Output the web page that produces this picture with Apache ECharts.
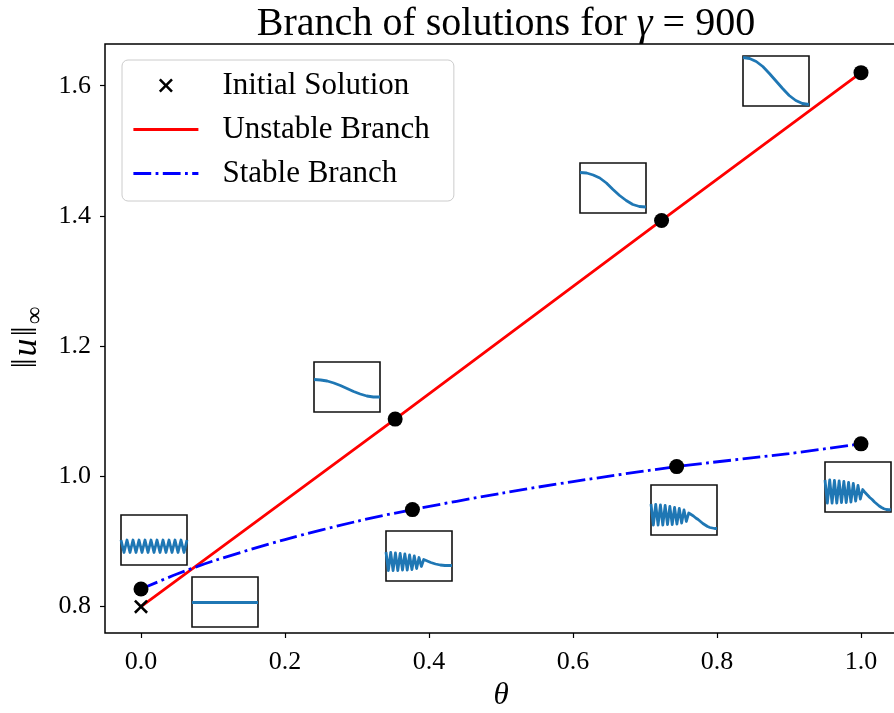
<!DOCTYPE html>
<html>
<head>
<meta charset="utf-8">
<script src="https://cdn.jsdelivr.net/npm/echarts@6.0.0/dist/echarts.min.js"></script>
<style>
  html, body { margin: 0; padding: 0; background: #ffffff; }
  #chart { width: 894px; height: 713px; }
</style>
</head>
<body>
<div id="chart"></div>
<script>
// ---- branch data: continuation parameter theta and sup-norm of the solution ----
const unstableTheta = [0.0, 0.353, 0.723, 1.0];
const unstableNorm  = [0.800, 1.088, 1.393, 1.620];

const stableTheta = [0.0, 0.05, 0.1, 0.2, 0.3, 0.377, 0.5, 0.6, 0.744, 0.9, 1.0];
const stableNorm  = [0.827, 0.850, 0.870, 0.903, 0.931, 0.949, 0.974, 0.992, 1.015, 1.035, 1.050];

const initialTheta = [0.0];
const initialNorm  = [0.800];

// solutions whose profiles are shown in the small panels
const unstableMarkTheta = [0.353, 0.723, 1.0];
const unstableMarkNorm  = [1.088, 1.393, 1.620];
const stableMarkTheta   = [0.0, 0.377, 0.744, 1.0];
const stableMarkNorm    = [0.827, 0.949, 1.015, 1.050];

const xTicks = [0.0, 0.2, 0.4, 0.6, 0.8, 1.0];
const yTicks = [0.8, 1.0, 1.2, 1.4, 1.6];

// ---- solution profiles u(s), sampled on a uniform grid of s in [0, 1] ----
const profileStable0 = [0.50, 0.25, 0.50, 0.25, 0.50, 0.25, 0.50, 0.25, 0.50, 0.25, 0.50, 0.25,
                        0.50, 0.25, 0.50, 0.25, 0.50, 0.25, 0.50, 0.25, 0.50, 0.25, 0.50];
const profileUnstable0 = [0.49, 0.49];
const profileUnstable1 = [0.65, 0.64, 0.62, 0.58, 0.53, 0.47, 0.41, 0.36, 0.32, 0.30, 0.30];
const profileStable1 = [0.58, 0.21, 0.57, 0.21, 0.56, 0.21, 0.55, 0.22, 0.54, 0.22, 0.52, 0.23,
                        0.50, 0.25, 0.47, 0.29, 0.43, 0.41, 0.39, 0.37, 0.355, 0.34, 0.33, 0.32,
                        0.315, 0.31, 0.31, 0.31, 0.31];
const profileUnstable2 = [0.81, 0.80, 0.76, 0.70, 0.60, 0.47, 0.35, 0.25, 0.17, 0.13, 0.12];
const profileStable2 = [0.62, 0.20, 0.61, 0.20, 0.60, 0.20, 0.59, 0.21, 0.57, 0.21, 0.55, 0.22,
                        0.53, 0.24, 0.50, 0.27, 0.44, 0.41, 0.38, 0.34, 0.31, 0.27, 0.23, 0.20,
                        0.17, 0.15, 0.14, 0.13, 0.13];
const profileStable3 = [0.64, 0.18, 0.64, 0.18, 0.63, 0.18, 0.62, 0.19, 0.61, 0.19, 0.59, 0.20,
                        0.57, 0.22, 0.53, 0.26, 0.45, 0.39, 0.34, 0.29, 0.25, 0.20, 0.16, 0.12,
                        0.09, 0.065, 0.05, 0.045, 0.045];
const profileUnstable3 = [0.97, 0.95, 0.89, 0.79, 0.65, 0.50, 0.35, 0.21, 0.11, 0.05, 0.03];

// ---- layout of the small profile panels (pixel boxes) ----
const panels = [
  { left: 121, top: 515, profile: profileStable0 },
  { left: 192, top: 577, profile: profileUnstable0 },
  { left: 314, top: 362, profile: profileUnstable1 },
  { left: 386, top: 531, profile: profileStable1 },
  { left: 580, top: 163, profile: profileUnstable2 },
  { left: 651, top: 485, profile: profileStable2 },
  { left: 825, top: 462, profile: profileStable3 },
  { left: 743, top: 56,  profile: profileUnstable3 }
];
const panelW = 66, panelH = 50;

const FONT = "'Liberation Serif', 'DejaVu Serif', serif";
const zip = (xs, ys) => xs.map((x, i) => [x, ys[i]]);
const crossPath = 'path://M0,1.3L1.3,0L5,3.7L8.7,0L10,1.3L6.3,5L10,8.7L8.7,10L5,6.3L1.3,10L0,8.7L3.7,5Z';

const grids = [{ left: 105, top: 44, width: 792, height: 589, outerBoundsMode: 'none',
                 show: true, borderColor: '#000', borderWidth: 1.5, backgroundColor: '#fff' }];
const xAxes = [{
  type: 'value', gridIndex: 0, min: -0.05, max: 1.05,
  axisLine: { show: false, onZero: false },
  splitLine: { show: false },
  axisTick: { show: true, length: 5, inside: false, customValues: xTicks,
              lineStyle: { color: '#000', width: 1.2 } },
  axisLabel: { customValues: xTicks, formatter: v => v.toFixed(1), margin: 16,
               color: '#000', fontFamily: FONT, fontSize: 26 },
  name: '{i|θ}', nameLocation: 'middle', nameGap: 46,
  nameTextStyle: { rich: { i: { fontFamily: FONT, fontStyle: 'italic', fontSize: 31, color: '#000' } } }
}];
const yAxes = [{
  type: 'value', gridIndex: 0, min: 0.7595, max: 1.664,
  axisLine: { show: false, onZero: false },
  splitLine: { show: false },
  axisTick: { show: true, length: 5, inside: false, customValues: yTicks,
              lineStyle: { color: '#000', width: 1.2 } },
  axisLabel: { customValues: yTicks, formatter: v => v.toFixed(1), margin: 14,
               color: '#000', fontFamily: FONT, fontSize: 26 },
  name: '{n|‖}{u|u}{n|‖}{s|∞}', nameLocation: 'middle', nameGap: 52, nameRotate: 90,
  nameTextStyle: { rich: {
    n: { fontFamily: FONT, fontSize: 36, color: '#000', padding: [0, 2, 0, 2] },
    u: { fontFamily: FONT, fontStyle: 'italic', fontSize: 36, color: '#000' },
    s: { fontFamily: FONT, fontSize: 25, color: '#000', padding: [18, 0, 0, 0] }
  } }
}];

const series = [
  { name: 'Unstable Branch', type: 'line', xAxisIndex: 0, yAxisIndex: 0,
    data: zip(unstableTheta, unstableNorm), symbol: 'none', z: 3,
    lineStyle: { color: '#ff0000', width: 2.8 }, itemStyle: { color: '#ff0000' } },
  { name: 'Stable Branch', type: 'line', xAxisIndex: 0, yAxisIndex: 0,
    data: zip(stableTheta, stableNorm), symbol: 'none', smooth: 0.3, z: 3,
    lineStyle: { color: '#0000ff', width: 2.8, type: [17.8, 4.4, 2.8, 4.4], cap: 'butt' },
    itemStyle: { color: '#0000ff' } },
  { name: 'Unstable Solutions', type: 'scatter', xAxisIndex: 0, yAxisIndex: 0,
    data: zip(unstableMarkTheta, unstableMarkNorm), symbol: 'circle', symbolSize: 15, z: 4,
    itemStyle: { color: '#000', opacity: 1 } },
  { name: 'Stable Solutions', type: 'scatter', xAxisIndex: 0, yAxisIndex: 0,
    data: zip(stableMarkTheta, stableMarkNorm), symbol: 'circle', symbolSize: 15, z: 4,
    itemStyle: { color: '#000', opacity: 1 } },
  { name: 'Initial Solution', type: 'scatter', xAxisIndex: 0, yAxisIndex: 0,
    data: zip(initialTheta, initialNorm), symbol: crossPath, symbolSize: 14, z: 4,
    itemStyle: { color: '#000', opacity: 1 } }
];

panels.forEach((p, k) => {
  const idx = k + 1;
  grids.push({ left: p.left, top: p.top, width: panelW, height: panelH, outerBoundsMode: 'none',
               show: true, borderColor: '#111', borderWidth: 1.6, backgroundColor: '#fff', z: 6 });
  xAxes.push({ type: 'value', gridIndex: idx, min: 0, max: 1, show: false });
  yAxes.push({ type: 'value', gridIndex: idx, min: 0, max: 1, show: false });
  const n = p.profile.length;
  series.push({
    type: 'line', xAxisIndex: idx, yAxisIndex: idx, z: 7, silent: true,
    data: p.profile.map((u, i) => [i / (n - 1), u]),
    symbol: 'none',
    lineStyle: { color: '#1f77b4', width: 2.8, join: 'round' }
  });
});

const chart = echarts.init(document.getElementById('chart'), null, { renderer: 'canvas' });
chart.setOption({
  animation: false,
  backgroundColor: '#ffffff',
  title: {
    text: '{r|Branch of solutions for }{i|γ}{r| = 900}',
    left: 501, top: -1, textAlign: 'center',
    textStyle: { fontWeight: 'normal', rich: {
      r: { fontFamily: FONT, fontSize: 40, fontWeight: 'normal', color: '#000' },
      i: { fontFamily: FONT, fontStyle: 'italic', fontSize: 40, fontWeight: 'normal', color: '#000' }
    } }
  },
  legend: {
    orient: 'vertical', left: 122, top: 60,
    padding: [10, 24, 12, 10],
    itemWidth: 65, itemHeight: 14, itemGap: 13,
    backgroundColor: 'rgba(255,255,255,0.8)',
    borderColor: '#cccccc', borderWidth: 1, borderRadius: 6,
    textStyle: { fontFamily: FONT, fontSize: 31, lineHeight: 30, color: '#000', padding: [0, 0, 0, 19] },
    lineStyle: { width: 2.8 },
    data: [
      { name: 'Initial Solution' },
      { name: 'Unstable Branch', itemStyle: { opacity: 0 } },
      { name: 'Stable Branch', itemStyle: { opacity: 0 } }
    ],
    selectedMode: false
  },
  grid: grids,
  xAxis: xAxes,
  yAxis: yAxes,
  series: series
});
</script>
</body>
</html>
